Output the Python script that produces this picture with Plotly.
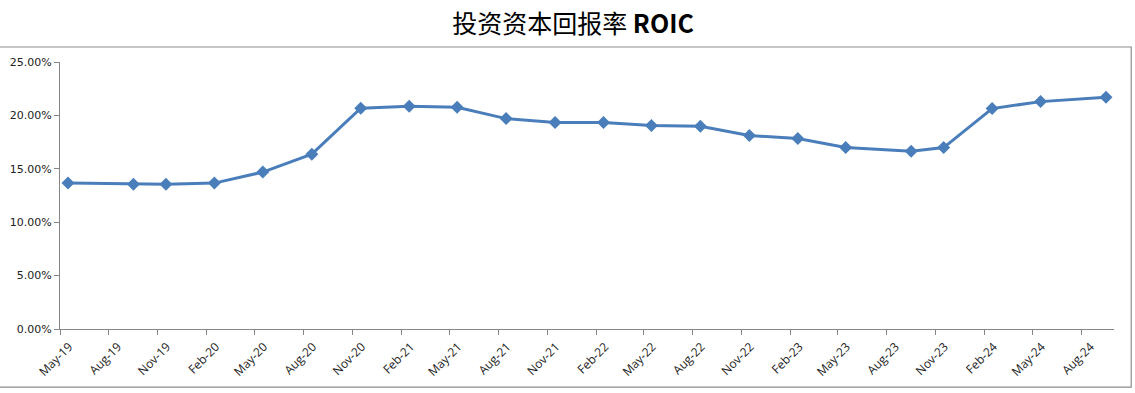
import plotly.graph_objects as go

# Data
dates = ["2019-05-16", "2019-09-16", "2019-11-16", "2020-02-15", "2020-05-16", "2020-08-16",
         "2020-11-16", "2021-02-15", "2021-05-16", "2021-08-16", "2021-11-16", "2022-02-15",
         "2022-05-16", "2022-08-16", "2022-11-16", "2023-02-15", "2023-05-16", "2023-09-16",
         "2023-11-16", "2024-02-15", "2024-05-16", "2024-09-16"]
roic = [0.1366, 0.1356, 0.1356, 0.1366, 0.1469, 0.1637, 0.2067, 0.2086, 0.2077, 0.1970, 0.1933,
        0.1933, 0.1905, 0.1899, 0.1811, 0.1783, 0.1699, 0.1665, 0.1699, 0.2064, 0.2129, 0.2170]

title_text = "投资资本回报率 <b>ROIC</b>"

W, H = 1135, 393
plot_left, plot_right = 60, 1113.8
plot_top, plot_bottom = 62, 329.3
L, R = plot_left, W - plot_right
T, B = plot_top, H - plot_bottom
pw = plot_right - plot_left
ph = plot_bottom - plot_top

fig = go.Figure()
fig.add_trace(go.Scatter(
    x=dates, y=roic, mode="lines+markers",
    line=dict(color="#4a7ebb", width=3),
    marker=dict(symbol="diamond", size=10, color="#4a7ebb"),
    showlegend=False,
))

def px_x(p):
    return (p - L) / pw

def px_y(p):
    return (plot_bottom - p) / ph

# chart-area frame: open on the left, as in the reference
fig.add_shape(type="rect", xref="paper", yref="paper",
              x0=px_x(-3), x1=px_x(1131), y0=px_y(387.5), y1=px_y(47),
              line=dict(color="#8c8c8c", width=1.2), fillcolor="rgba(0,0,0,0)", layer="below")

fig.update_layout(
    width=W, height=H,
    margin=dict(l=L, r=R, t=T, b=B, pad=0, autoexpand=False),
    paper_bgcolor="white", plot_bgcolor="white",
    title=dict(text=title_text, x=573 / W, xanchor="center",
               y=1 - 24 / H, yanchor="middle",
               font=dict(family="Noto Sans CJK SC", size=25, color="black")),
    xaxis=dict(
        type="date", range=["2019-05-01", "2024-10-01"],
        tick0="2019-05-01", dtick="M3", tickformat="%b-%y",
        tickangle=-45, ticks="outside", ticklen=5, tickcolor="#868686",
        ticklabelshift=9,
        showline=True, linecolor="#868686", linewidth=1.2, showgrid=False, zeroline=False,
        tickfont=dict(family="Open Sans", size=12, color="#222"),
        automargin=False,
    ),
    yaxis=dict(
        range=[0, 0.25], dtick=0.05, tickformat=".2%",
        ticks="outside", ticklen=5, tickcolor="#868686",
        showline=True, linecolor="#868686", linewidth=1.2, showgrid=False, zeroline=False,
        tickfont=dict(family="DejaVu Sans", size=11, color="#222"),
        automargin=False,
    ),
)

fig.write_html(
    "out.html",
    config={"displayModeBar": False},
    post_script="document.body.style.margin='0';document.documentElement.style.overflow='hidden';",
)
